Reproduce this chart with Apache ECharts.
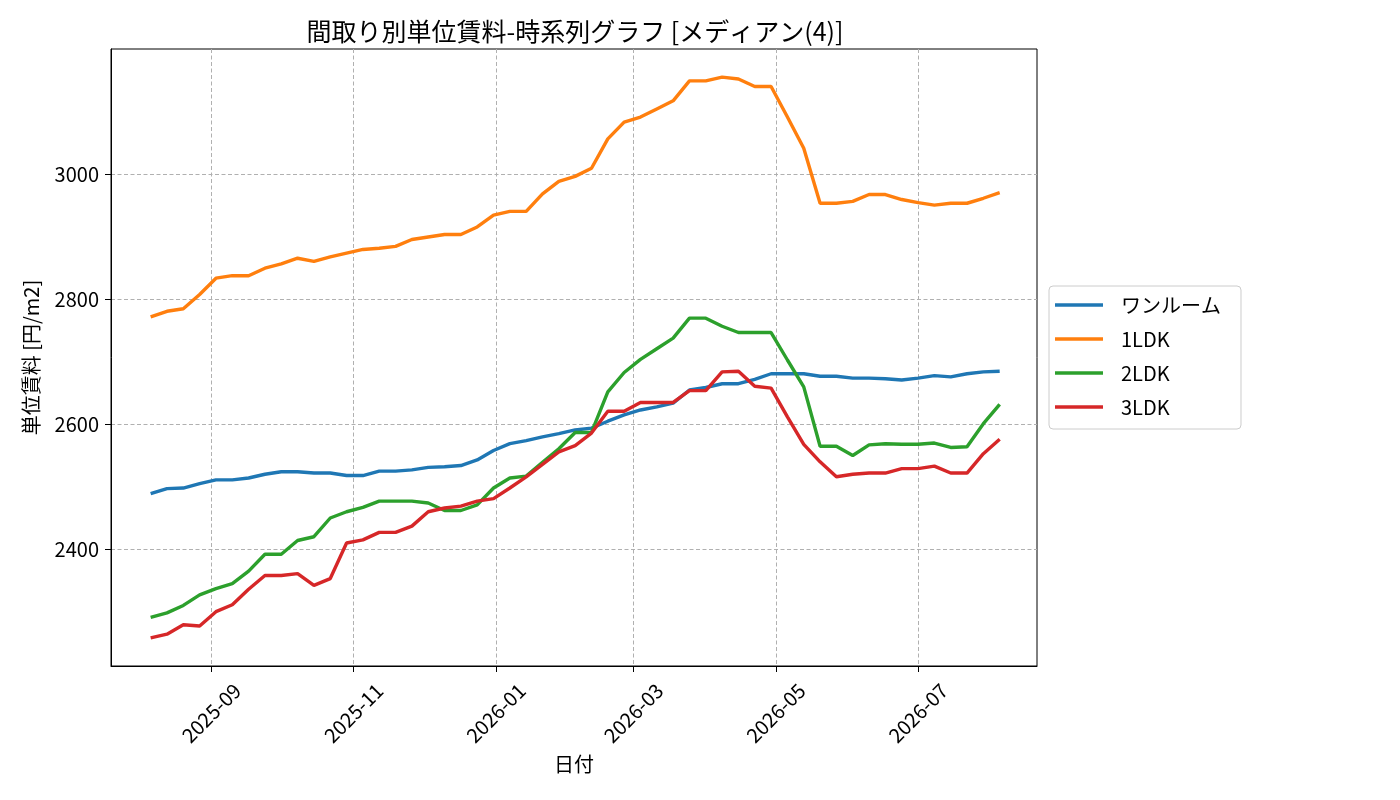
<!DOCTYPE html>
<html>
<head>
<meta charset="utf-8">
<script src="https://cdn.jsdelivr.net/npm/echarts@6/dist/echarts.min.js"></script>
<style>
html,body{margin:0;padding:0;background:#fff;}
#chart{width:1400px;height:800px;}
</style>
</head>
<body>
<div id="chart"></div>
<script>
const dates = [
 '2025-08-06','2025-08-13','2025-08-20','2025-08-27','2025-09-03','2025-09-10','2025-09-17','2025-09-24',
 '2025-10-01','2025-10-08','2025-10-15','2025-10-22','2025-10-29','2025-11-05','2025-11-12','2025-11-19',
 '2025-11-26','2025-12-03','2025-12-10','2025-12-17','2025-12-24','2025-12-31','2026-01-07','2026-01-14',
 '2026-01-21','2026-01-28','2026-02-04','2026-02-11','2026-02-18','2026-02-25','2026-03-04','2026-03-11',
 '2026-03-18','2026-03-25','2026-04-01','2026-04-08','2026-04-15','2026-04-22','2026-04-29','2026-05-06',
 '2026-05-13','2026-05-20','2026-05-27','2026-06-03','2026-06-10','2026-06-17','2026-06-24','2026-07-01',
 '2026-07-08','2026-07-15','2026-07-22','2026-07-29','2026-08-05'
];
const seriesNames = ['ワンルーム', '1LDK', '2LDK', '3LDK'];
const oneRoom = [2489,2497,2498,2505,2511,2511,2514,2520,2524,2524,2522,2522,2518,2518,2525,2525,2527,2531,2532,2534,2543,2558,2569,2574,2580,2585,2591,2594,2605,2615,2623,2628,2634,2655,2659,2665,2665,2672,2681,2681,2681,2677,2677,2674,2674,2673,2671,2674,2678,2676,2681,2684,2685];
const ldk1 = [2772,2781,2785,2808,2834,2838,2838,2850,2857,2866,2861,2868,2874,2880,2882,2885,2896,2900,2904,2904,2916,2935,2941,2941,2969,2989,2997,3010,3057,3084,3092,3105,3118,3150,3150,3156,3153,3141,3141,3092,3042,2954,2954,2957,2968,2968,2960,2955,2951,2954,2954,2962,2971];
const ldk2 = [2291,2298,2310,2327,2337,2345,2365,2392,2392,2414,2420,2450,2460,2467,2477,2477,2477,2474,2462,2462,2471,2498,2514,2517,2539,2561,2587,2587,2652,2683,2704,2721,2738,2770,2770,2757,2747,2747,2747,2703,2660,2565,2565,2550,2567,2569,2568,2568,2570,2563,2564,2601,2632];
const ldk3 = [2258,2264,2279,2277,2300,2311,2336,2358,2358,2361,2342,2353,2410,2415,2427,2427,2437,2460,2466,2469,2477,2481,2498,2516,2536,2556,2566,2586,2621,2621,2635,2635,2635,2654,2654,2684,2685,2661,2658,2612,2568,2540,2516,2520,2522,2522,2529,2529,2533,2522,2522,2553,2576];
const xTickDates = ['2025-09-01','2025-11-01','2026-01-01','2026-03-01','2026-05-01','2026-07-01'];
const yTicks = [2400, 2600, 2800, 3000];

const colors = ['#1f77b4', '#ff7f0e', '#2ca02c', '#d62728'];
const allSeries = [oneRoom, ldk1, ldk2, ldk3];
const FONT = '"Noto Sans CJK JP", "Noto Sans", sans-serif';
function ts(s){ const p = s.split('-'); return new Date(+p[0], +p[1]-1, +p[2]).getTime(); }

const chart = echarts.init(document.getElementById('chart'));
chart.setOption({
  animation: false,
  backgroundColor: '#fff',
  textStyle: { fontFamily: FONT },
  color: colors,
  title: {
    text: '間取り別単位賃料-時系列グラフ [メディアン(4)]',
    left: 570, top: 14, textAlign: 'center',
    textStyle: { fontFamily: FONT, fontSize: 25, fontWeight: 'normal', color: '#000' }
  },
  grid: { left: 111, right: 363, top: 49, bottom: 134, show: true, borderColor: '#000', borderWidth: 1, containLabel: false },
  legend: {
    orient: 'vertical', left: 1049, top: 286,
    data: seriesNames,
    icon: 'rect',
    itemWidth: 48, itemHeight: 3.5, itemGap: 14,
    padding: [9, 20, 12, 6],
    backgroundColor: '#fff', borderColor: '#cccccc', borderWidth: 1, borderRadius: 4,
    textStyle: { fontFamily: FONT, fontSize: 20, color: '#000', lineHeight: 20, padding: [0, 0, 0, 13] }
  },
  xAxis: {
    type: 'value',
    min: ts('2025-07-20'), max: ts('2026-08-21'),
    name: '日付', nameLocation: 'middle', nameGap: 88,
    nameTextStyle: { fontFamily: FONT, fontSize: 20, color: '#000' },
    axisLine: { show: true, lineStyle: { color: '#000', width: 1 } },
    axisTick: { show: true, inside: false, length: 6, lineStyle: { color: '#000' }, customValues: xTickDates.map(ts) },
    axisLabel: {
      customValues: xTickDates.map(ts),
      rotate: 45, align: 'center', verticalAlign: 'middle', margin: 47,
      fontFamily: FONT, fontSize: 20, color: '#000',
      formatter: function (v) { const d = new Date(v); return d.getFullYear() + '-' + String(d.getMonth() + 1).padStart(2, '0'); }
    },
    splitLine: { show: true, lineStyle: { color: '#b0b0b0', width: 1, type: [4, 2.5] } }
  },
  yAxis: {
    type: 'value',
    min: 2213, max: 3201,
    name: '単位賃料 [円/m2]', nameLocation: 'middle', nameGap: 70, nameRotate: 90,
    nameTextStyle: { fontFamily: FONT, fontSize: 20, color: '#000' },
    axisLine: { show: true, lineStyle: { color: '#000', width: 1 } },
    axisTick: { show: true, inside: false, length: 6, lineStyle: { color: '#000' }, customValues: yTicks },
    axisLabel: { customValues: yTicks, margin: 12, fontFamily: FONT, fontSize: 20, color: '#000',
      formatter: function (v) { return String(Math.round(v)); } },
    splitLine: { show: true, lineStyle: { color: '#b0b0b0', width: 1, type: [4, 2.5] } }
  },
  series: allSeries.map(function (vals, k) {
    return {
      name: seriesNames[k], type: 'line', symbol: 'none', showSymbol: false,
      lineStyle: { width: 3.4, color: colors[k] }, itemStyle: { color: colors[k] },
      data: vals.map(function (v, i) { return [ts(dates[i]), v]; })
    };
  })
});
</script>
</body>
</html>
